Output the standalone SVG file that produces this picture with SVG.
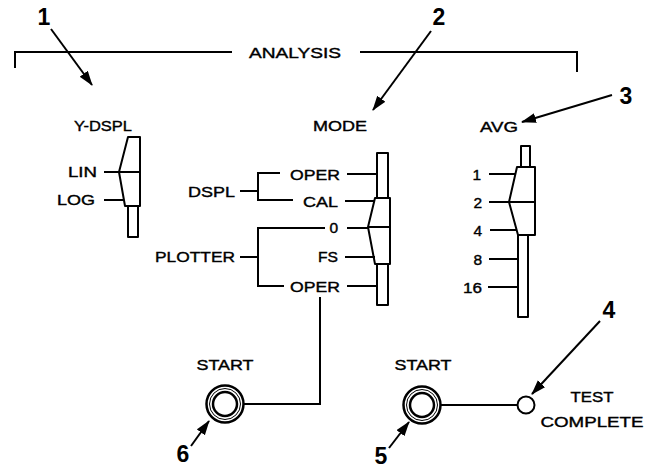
<svg xmlns="http://www.w3.org/2000/svg" width="657" height="469" viewBox="0 0 657 469">
<style>
.t{font-family:"Liberation Sans",Arial,sans-serif;font-size:15.5px;fill:#000;stroke:#000;stroke-width:0.4}
.e{text-anchor:end}
.m{text-anchor:middle}
.n{font-family:"Liberation Sans",Arial,sans-serif;font-size:23px;font-weight:bold;fill:#000;text-anchor:middle}
.l{fill:none;stroke:#000;stroke-width:2}
.b{fill:#fff;stroke:#000;stroke-width:2;stroke-linejoin:round}
.a{fill:none;stroke:#000;stroke-width:2;marker-end:url(#ah)}
</style>
<defs>
<marker id="ah" markerUnits="userSpaceOnUse" markerWidth="16" markerHeight="12" refX="14" refY="5" orient="auto">
<path d="M0,0 L15,5 L0,10 Z" fill="#000"/>
</marker>
</defs>
<rect width="657" height="469" fill="#fff"/>

<g id="analysis">
<path class="l" d="M15,68 V52 H232 M360,52 H577 V72"/>
<text class="t m" x="295" y="58" textLength="92" lengthAdjust="spacingAndGlyphs">ANALYSIS</text>
</g>

<g id="ydspl">
<text class="t m" x="103" y="131" textLength="58" lengthAdjust="spacingAndGlyphs">Y-DSPL</text>
<rect class="b" x="128" y="206" width="10" height="31"/>
<polygon class="b" points="128,137 140,137 140,206 125,206 119,172"/>
<line class="l" x1="119" y1="172" x2="140" y2="172"/>
<text class="t e" x="97" y="177" textLength="29" lengthAdjust="spacingAndGlyphs">LIN</text>
<text class="t e" x="95" y="205" textLength="38" lengthAdjust="spacingAndGlyphs">LOG</text>
<line class="l" x1="104" y1="172" x2="119" y2="172"/>
<line class="l" x1="104" y1="200" x2="123" y2="200"/>
</g>

<g id="mode">
<text class="t m" x="340" y="131" textLength="54" lengthAdjust="spacingAndGlyphs">MODE</text>
<rect class="b" x="377" y="153" width="11" height="46"/>
<rect class="b" x="377" y="263" width="11" height="42"/>
<polygon class="b" points="375,198 390,198 390,264 375,264 368,227"/>
<line class="l" x1="368" y1="227" x2="390" y2="227"/>
<text class="t e" x="340" y="180" textLength="50" lengthAdjust="spacingAndGlyphs">OPER</text>
<text class="t e" x="338" y="207" textLength="35" lengthAdjust="spacingAndGlyphs">CAL</text>
<text class="t e" x="338" y="233">0</text>
<text class="t e" x="338" y="262" textLength="20" lengthAdjust="spacingAndGlyphs">FS</text>
<text class="t e" x="340" y="292" textLength="50" lengthAdjust="spacingAndGlyphs">OPER</text>
<path class="l" d="M347,174 H377 M345,201 H375 M347,228 H368 M345,257 H375 M347,286 H377"/>
<text class="t e" x="235" y="197" textLength="47" lengthAdjust="spacingAndGlyphs">DSPL</text>
<text class="t e" x="235" y="262" textLength="80" lengthAdjust="spacingAndGlyphs">PLOTTER</text>
<path class="l" d="M240,191 H258 M280,173 H258 V200 H293 M240,257 H258 M325,228 H258 V286 H284"/>
</g>

<g id="avg">
<text class="t m" x="499" y="132" textLength="38" lengthAdjust="spacingAndGlyphs">AVG</text>
<rect class="b" x="521" y="146" width="9" height="22"/>
<rect class="b" x="518" y="234" width="10" height="83"/>
<polygon class="b" points="517,167 535,167 535,235 518,235 509,202"/>
<line class="l" x1="509" y1="202" x2="535" y2="202"/>
<text class="t e" x="481" y="180">1</text>
<text class="t e" x="482" y="208">2</text>
<text class="t e" x="482" y="236">4</text>
<text class="t e" x="482" y="265">8</text>
<text class="t e" x="482" y="293" textLength="19" lengthAdjust="spacingAndGlyphs">16</text>
<path class="l" d="M489,174 H515 M489,202 H509 M490,230 H516 M489,259 H518 M488,287 H518"/>
</g>

<g id="start1">
<text class="t m" x="225" y="370" textLength="57" lengthAdjust="spacingAndGlyphs">START</text>
<circle cx="225" cy="404" r="18.5" fill="#fff" stroke="#000" stroke-width="2.5"/>
<circle cx="225" cy="404" r="15.5" fill="none" stroke="#000" stroke-width="1"/>
<circle cx="225" cy="404" r="12" fill="none" stroke="#000" stroke-width="2.5"/>
</g>

<g id="start2">
<text class="t m" x="423" y="370" textLength="57" lengthAdjust="spacingAndGlyphs">START</text>
<circle cx="422" cy="405" r="18.5" fill="#fff" stroke="#000" stroke-width="2.5"/>
<circle cx="422" cy="405" r="15.5" fill="none" stroke="#000" stroke-width="1"/>
<circle cx="422" cy="405" r="12" fill="none" stroke="#000" stroke-width="2.5"/>
</g>

<g id="lamp">
<circle cx="526" cy="405" r="8.5" fill="#fff" stroke="#000" stroke-width="2"/>
<text class="t m" x="592" y="402" textLength="43" lengthAdjust="spacingAndGlyphs">TEST</text>
<text class="t m" x="592" y="427" textLength="103" lengthAdjust="spacingAndGlyphs">COMPLETE</text>
</g>

<g id="connectors">
<path class="l" d="M320,297 V404 H244"/>
<path class="l" d="M441,405 H517"/>
</g>

<g id="callouts">
<text class="n" x="44" y="25">1</text>
<text class="n" x="439" y="25">2</text>
<text class="n" x="626" y="104">3</text>
<text class="n" x="609" y="318">4</text>
<text class="n" x="381" y="464">5</text>
<text class="n" x="183" y="462">6</text>
<line class="a" x1="51" y1="29" x2="92" y2="85"/>
<line class="a" x1="431" y1="31" x2="373" y2="110"/>
<line class="a" x1="612" y1="95" x2="522" y2="122"/>
<line class="a" x1="600" y1="321" x2="532" y2="394"/>
<line class="a" x1="389" y1="448" x2="409" y2="422"/>
<line class="a" x1="191" y1="446" x2="209" y2="421"/>
</g>
</svg>
